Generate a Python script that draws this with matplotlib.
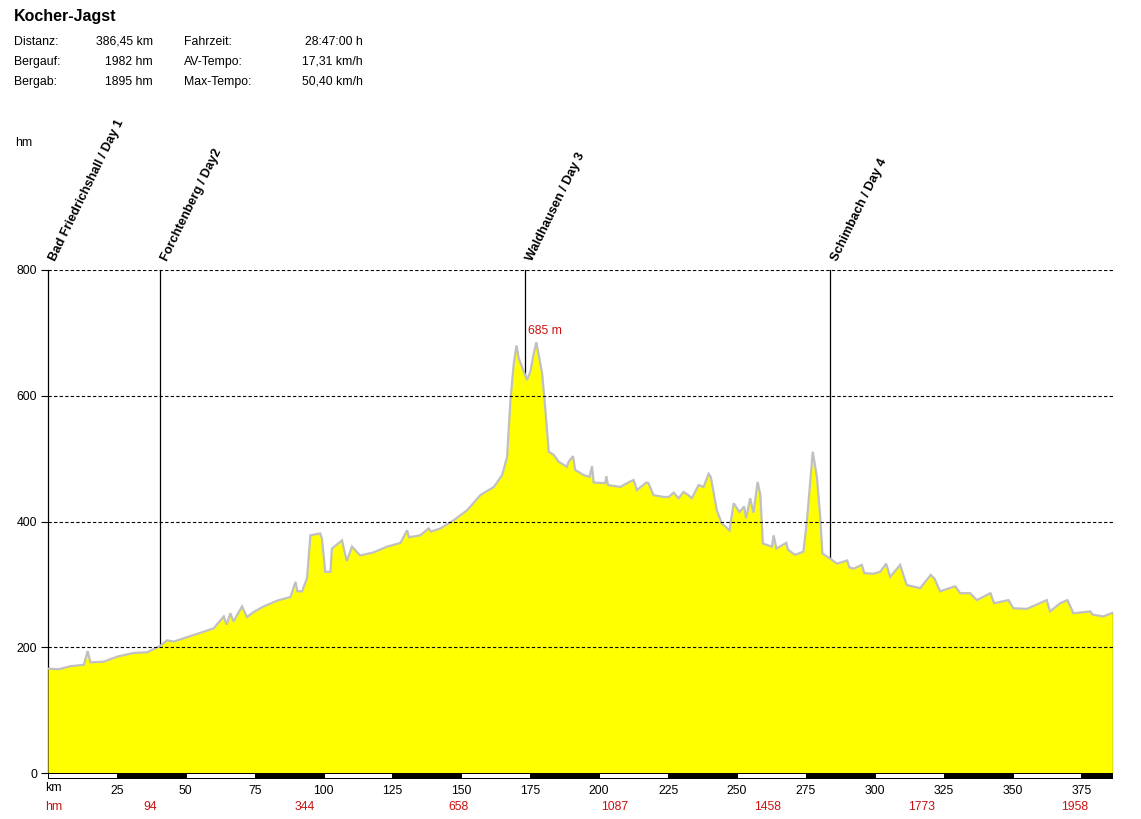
import matplotlib
matplotlib.use("Agg")
import matplotlib.pyplot as plt
import matplotlib.transforms as mtransforms
from matplotlib.patches import Rectangle

plt.rcParams['font.family'] = ['Liberation Sans', 'DejaVu Sans']

# Elevation profile (km, hm)
km = [0, 3.9, 8.2, 13, 14.4, 15.4, 20.2, 25.1, 31.1, 36, 40.6, 43.2, 45.6, 50.5,
      55.3, 60.1, 63.8, 64.8, 66.2, 67.3, 70.4, 72.2, 74.6, 78.3, 83.1, 88, 89.8,
      90.5, 92.2, 94, 95.2, 98.8, 99.4, 100.6, 102.5, 103, 106.7, 108.4, 110.3,
      113.3, 118.2, 123, 127.9, 130.3, 131, 135.1, 138.1, 139, 142.4, 147.2, 152.1,
      156.9, 161.8, 164.8, 166.6, 167.8, 169, 170, 170.8, 173.8, 175, 176.2, 177.2,
      178, 179.3, 180.5, 181.1, 181.7, 183.5, 185.3, 188.3, 188.9, 190.5, 191.3,
      194.3, 196.5, 197.4, 198, 202.2, 202.6, 203.2, 207.7, 211, 212.5, 213.7,
      217.1, 217.9, 219.7, 223.4, 225.3, 227, 228.8, 230.6, 232.4, 233.6, 236.1,
      237.9, 239.7, 240.5, 241.5, 242.7, 244.5, 247.3, 248.8, 250.9, 252.6, 253.3,
      254.8, 256, 257.5, 258.5, 259.4, 262.7, 263.3, 264.3, 267.9, 268.5,
      271.1, 274.1, 275.4, 277.5, 279, 280.2, 281, 283.8, 286.3, 290, 290.8, 292.3,
      295.3, 296.2, 299.5, 302, 304.1, 305.6, 309.2, 311.6, 316.5, 320.3, 321.7,
      323.7, 329.2, 331, 334.6, 337, 342, 343.3, 348.5, 350.3, 355.2, 362.4, 363.6,
      367.3, 369.9, 372.1, 378.2, 379, 382.9, 386.45]
elev = [166, 165, 170, 172, 194, 176, 177, 185, 191, 192, 202, 211, 209, 216,
        223, 230, 249, 236, 254, 241, 265, 248, 256, 265, 274, 280, 304,
        289, 289, 310, 378, 381, 373, 320, 320, 357, 370, 337, 360,
        346, 351, 360, 366, 386, 375, 378, 389, 384, 389, 402, 418,
        442, 455, 474, 503, 593, 651, 680, 660, 625, 638, 666, 685,
        666, 636, 577, 545, 511, 506, 495, 487, 495, 504, 482,
        474, 471, 488, 462, 461, 472, 458, 455, 463, 466, 450,
        462, 461, 442, 439, 439, 446, 437, 447, 442, 437, 458,
        455, 476, 471, 447, 418, 397, 386, 429, 415, 424, 405,
        437, 414, 463, 442, 365, 360, 378, 357, 366, 355,
        347, 352, 402, 511, 471, 408, 349, 341, 333, 338, 327, 325,
        331, 318, 317, 320, 333, 312, 331, 299, 294, 315, 309,
        289, 297, 286, 286, 275, 286, 270, 275, 262, 261, 275, 257,
        270, 275, 254, 257, 252, 249, 255]

stops_km = [0, 40.6, 173.2, 283.8]
stops = ['Bad Friedrichshall / Day 1', 'Forchtenberg / Day2',
         'Waldhausen / Day 3', 'Schimbach / Day 4']

hm_pos = [37.2, 93, 149, 205.5, 261, 317, 372.7]
hm_labels = ['94', '344', '658', '1087', '1458', '1773', '1958']

info_left = [('Distanz:', '386,45 km'), ('Bergauf:', '1982 hm'), ('Bergab:', '1895 hm')]
info_right = [('Fahrzeit:', '28:47:00 h'), ('AV-Tempo:', '17,31 km/h'), ('Max-Tempo:', '50,40 km/h')]

W, H = 1141, 819
RED = '#cc1111'
FS = 8.8
fig = plt.figure(figsize=(W / 100, H / 100), dpi=100)
ax = fig.add_axes([48 / W, (H - 773) / H, (1113 - 48) / W, (773 - 270) / H])
xmax = km[-1]
ax.set_xlim(0, xmax)
ax.set_ylim(0, 800)
for s in ax.spines.values():
    s.set_visible(False)

# profile
ax.fill_between(km, elev, 0, color='#ffff00', lw=0, zorder=2)
ax.plot(km, elev, color='#c0c0c0', lw=1.6, zorder=3, solid_joinstyle='miter')
ax.plot([xmax, xmax], [0, elev[-1]], color='#6b8e23', lw=1, zorder=3)

# grid
for y in [200, 400, 600, 800]:
    ax.axhline(y, color='black', lw=0.8, ls=(0, (3, 2)), zorder=4)

# stop markers
for x, name in zip(stops_km, stops):
    ax.plot([x, x], [0, 800], color='black', lw=0.9, zorder=1, clip_on=False)
    ax.annotate(name, xy=(x, 800), xytext=(7, 5), textcoords='offset points',
                rotation=64, rotation_mode='anchor', ha='left', va='bottom',
                fontsize=9.2, fontweight='bold')

ax.text(174.3, 703, '685 m', color=RED, fontsize=FS, ha='left', va='center')

# y axis
ax.set_yticks([0, 200, 400, 600, 800])
ax.tick_params(axis='y', length=5, width=0.8, labelsize=FS, pad=3)

# x axis: tick labels and alternating distance bar
ax.set_xticks(range(25, 376, 25))
ax.tick_params(axis='x', length=0, labelsize=FS, pad=9)
trans = mtransforms.blended_transform_factory(ax.transData, ax.transAxes)
px = 1 / (773 - 270)
ax.add_patch(Rectangle((0, -6 * px), xmax, 6 * px, transform=trans,
                       facecolor='black', edgecolor='none', clip_on=False, zorder=5))
for k in range(0, 400, 50):
    w = min(25, xmax - k) - 0.4
    ax.add_patch(Rectangle((k + 0.4, -5 * px), w, 4 * px, transform=trans,
                           facecolor='white', edgecolor='none', clip_on=False, zorder=6))
ax.text(-1, -15 * px, 'km', transform=trans, ha='left', va='center', fontsize=FS)
ax.text(-1, -34 * px, 'hm', transform=trans, ha='left', va='center', fontsize=FS, color=RED)
for x, lab in zip(hm_pos, hm_labels):
    ax.text(x, -34 * px, lab, transform=trans, ha='center', va='center', fontsize=FS, color=RED)

# header
fig.text(14 / W, 1 - 17 / H, 'Kocher-Jagst', fontsize=11.5, fontweight='bold', va='center')
for i, (lab, val) in enumerate(info_left):
    y = 1 - (42 + 20 * i) / H
    fig.text(14 / W, y, lab, fontsize=FS, va='center')
    fig.text(153 / W, y, val, fontsize=FS, va='center', ha='right')
for i, (lab, val) in enumerate(info_right):
    y = 1 - (42 + 20 * i) / H
    fig.text(184 / W, y, lab, fontsize=FS, va='center')
    fig.text(363 / W, y, val, fontsize=FS, va='center', ha='right')
fig.text(15 / W, 1 - 143 / H, 'hm', fontsize=FS, va='center')

fig.savefig('out.png', dpi=100)
